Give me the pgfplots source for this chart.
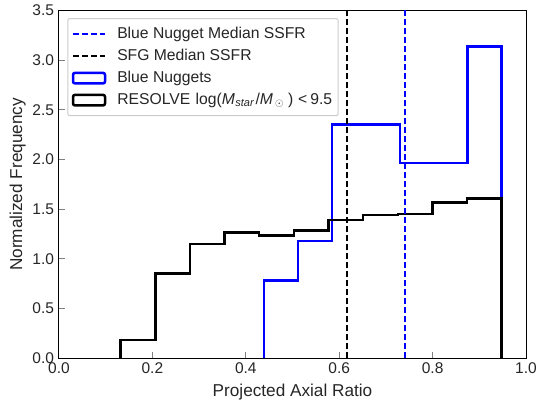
\documentclass[border=0pt]{standalone}
\usepackage{fontspec}
\setmainfont{Liberation Sans}
\usepackage{pgfplots}
\pgfplotsset{compat=1.18}

\definecolor{txt}{HTML}{262626}
\definecolor{tickgray}{HTML}{808080}
\definecolor{legframe}{HTML}{CCCCCC}

\newcommand\lblfont{\fontsize{17.2bp}{20bp}\selectfont}
\newcommand\tckfont{\fontsize{15.5bp}{18bp}\selectfont}
\newcommand\legfont{\fontsize{15.7bp}{18bp}\selectfont}

\pgfplotsset{
  histleg/.style={legend image code/.code={\draw[##1] (0bp,-5.3bp) rectangle (32bp,5.3bp);}},
  lineleg/.style={legend image code/.code={\draw[##1] (0bp,0bp) -- (32bp,0bp);}},
  medline/.style={line width=1.8bp, dash pattern=on 6bp off 3bp},
}

\begin{document}
\begin{tikzpicture}
\path[use as bounding box] (-59bp,-44.7bp) rectangle (478bp,358.3bp);
\begin{axis}[
  at={(0,0)}, anchor=south west,
  width=467bp, height=347.8bp, scale only axis,
  xmin=0, xmax=1, ymin=0, ymax=3.5,
  xtick={0,0.2,0.4,0.6,0.8,1.0},
  ytick={0,0.5,1.0,1.5,2.0,2.5,3.0,3.5},
  xtick pos=left, ytick pos=left,
  tick align=inside,
  major tick length=6bp,
  tick style={tickgray, line width=1bp},
  axis line style={black, line width=1bp},
  ticklabel style={font=\tckfont, text=txt},
  xticklabel style={yshift=-0.8bp},
  yticklabel style={xshift=-1.5bp},
  /pgf/number format/.cd, fixed, fixed zerofill, precision=1, assume math mode=true,
  /pgfplots/.cd,
  xlabel={Projected Axial Ratio},
  ylabel={Normalized Frequency},
  label style={font=\lblfont, text=txt},
  xlabel style={at={(axis description cs:0.5,-0.1084)}, anchor=base},
  ylabel style={at={(axis description cs:-0.0792,0.5)}, anchor=base},
  legend cell align=left,
  legend style={
    at={(axis description cs:0.0177,0.978)}, anchor=north west,
    draw=legframe, line width=1bp, rounded corners=2bp,
    fill=white, fill opacity=0.8, text opacity=1,
    font=\legfont, text=txt,
    inner xsep=4bp, inner ysep=6bp,
    row sep=3.0bp, column sep=9bp,
    nodes={inner xsep=2bp, inner ysep=2bp, text height=11.5bp, text depth=3.5bp},
  },
]
% legend entries, in display order
\addlegendimage{lineleg, color=blue, medline}
\addlegendentry{Blue Nugget Median SSFR}
\addlegendimage{lineleg, color=black, medline}
\addlegendentry{SFG Median SSFR}
\addlegendimage{histleg, color=blue, line width=2.5bp}
\addlegendentry{Blue Nuggets}
\addlegendimage{histleg, color=black, line width=2.5bp}
\addlegendentry{RESOLVE\hspace{1bp} log(\textit{M}\hspace{0.5bp}\textsubscript{\textit{star}}\hspace{1bp}/\textit{M}\textsubscript{\hspace{2bp}$\odot$}\hspace{4bp})\hspace{5bp}<\hspace{3bp}9.5\hspace{4bp}}

% blue nuggets, 7 bins from 0.4385 to 0.948 (step outline)
\addplot[forget plot, const plot, color=blue, line width=2.5bp] coordinates {
  (0.4385,0) (0.4385,0.785) (0.5113,1.178) (0.5841,2.355) (0.6569,2.355)
  (0.7297,1.963) (0.8024,1.963) (0.8752,3.140) (0.9480,3.140) (0.9480,0)
};
% RESOLVE dwarfs, 11 bins from 0.132 to 0.948 (step outline)
\addplot[forget plot, const plot, color=black, line width=2.5bp] coordinates {
  (0.1320,0) (0.1320,0.185) (0.2062,0.855) (0.2804,1.150) (0.3545,1.268)
  (0.4287,1.234) (0.5029,1.284) (0.5771,1.390) (0.6513,1.440) (0.7255,1.450)
  (0.7996,1.570) (0.8738,1.610) (0.9480,1.610) (0.9480,0)
};
% median lines
\addplot[forget plot, color=black, medline] coordinates {(0.617,0) (0.617,3.5)};
\addplot[forget plot, color=blue, medline] coordinates {(0.7416,0) (0.7416,3.5)};
\end{axis}
\end{tikzpicture}
\end{document}
